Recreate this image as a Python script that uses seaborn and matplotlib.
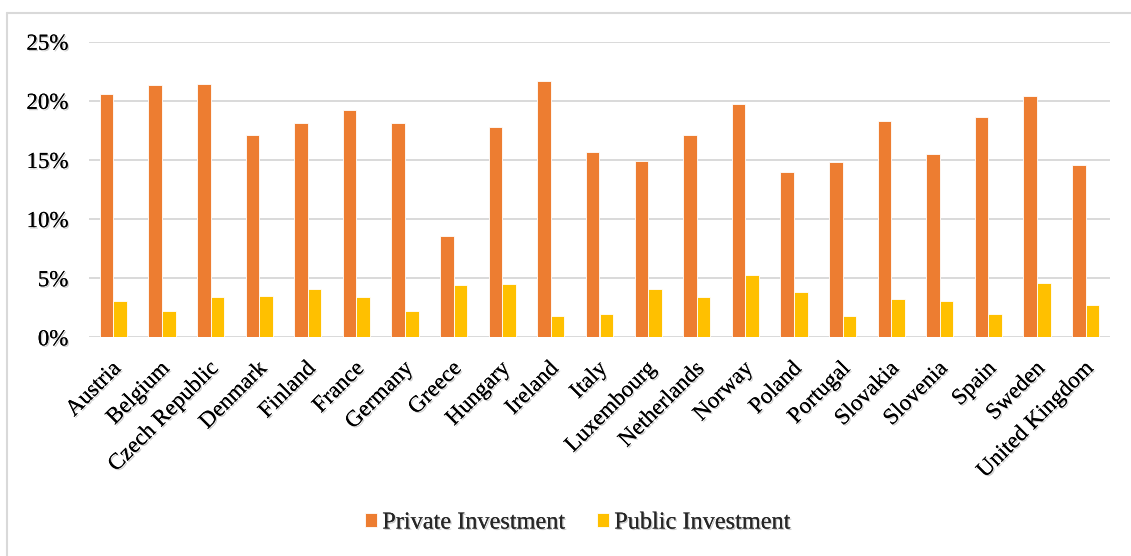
import matplotlib
matplotlib.use("Agg")
import matplotlib.pyplot as plt
import matplotlib.patheffects as pe
import matplotlib.transforms as mtransforms
from matplotlib.lines import Line2D
import seaborn as sns
import pandas as pd

countries = ["Austria", "Belgium", "Czech Republic", "Denmark", "Finland", "France",
             "Germany", "Greece", "Hungary", "Ireland", "Italy", "Luxembourg",
             "Netherlands", "Norway", "Poland", "Portugal", "Slovakia", "Slovenia",
             "Spain", "Sweden", "United Kingdom"]
private = [20.6, 21.3, 21.4, 17.1, 18.1, 19.2, 18.1, 8.6, 17.8, 21.7, 15.7, 14.9,
           17.1, 19.7, 14.0, 14.8, 18.3, 15.5, 18.6, 20.4, 14.6]
public = [3.1, 2.2, 3.4, 3.5, 4.1, 3.4, 2.2, 4.4, 4.5, 1.8, 2.0, 4.1,
          3.4, 5.3, 3.8, 1.8, 3.2, 3.1, 2.0, 4.6, 2.7]
series_names = ["Private Investment", "Public Investment"]
y_ticks = [0, 5, 10, 15, 20, 25]
y_labels = ["0%", "5%", "10%", "15%", "20%", "25%"]

df = pd.DataFrame({
    "Country": countries * 2,
    "Value": private + public,
    "Series": [series_names[0]] * len(countries) + [series_names[1]] * len(countries),
})

sns.set_theme(style="white")
plt.rcParams["font.family"] = ["Liberation Serif", "DejaVu Serif"]

fig = plt.figure(figsize=(11.31, 5.56), dpi=100)
ax = fig.add_axes([89 / 1131, 1 - 337.3 / 556, (1110 - 89) / 1131, (337.3 - 41.7) / 556])

palette = {series_names[0]: "#ED7D31", series_names[1]: "#FFC000"}
sns.barplot(data=df, x="Country", y="Value", hue="Series", palette=palette,
            width=0.56, gap=0.0, edgecolor="white", linewidth=0.6,
            saturation=1, ax=ax, legend=True, order=countries)

ax.set_ylim(0, 25)
ax.set_xlim(-0.5, len(countries) - 0.5)
ax.set_yticks(y_ticks)
ax.set_yticklabels(y_labels)
ax.yaxis.grid(True, color="#D9D9D9", linewidth=1.4)
ax.set_axisbelow(True)
for s in ax.spines.values():
    s.set_visible(False)
ax.set_xlabel("")
ax.set_ylabel("")

shadow = [pe.withSimplePatchShadow(offset=(1, -1), shadow_rgbFace="#999999", alpha=0.5), pe.Normal()]
ax.tick_params(axis="y", length=0, pad=15, labelsize=16.5, labelcolor="#000000")
ax.tick_params(axis="x", length=0, pad=15, labelsize=16.5, labelcolor="#000000")
shift = mtransforms.ScaledTranslation(-3 / 100, 0, fig.dpi_scale_trans)
for lab in ax.get_xticklabels():
    lab.set_rotation(45)
    lab.set_ha("right")
    lab.set_rotation_mode("anchor")
    lab.set_transform(lab.get_transform() + shift)
    lab.set_path_effects(shadow)
for lab in ax.get_yticklabels():
    lab.set_path_effects(shadow)

handles, labels = ax.get_legend_handles_labels()
ax.legend_.remove()
leg = fig.legend(handles, labels, loc="center", bbox_to_anchor=(578 / 1131, 1 - 523 / 556),
                 ncol=2, frameon=False, fontsize=17.5, handlelength=0.5, handleheight=0.5,
                 handletextpad=0.2, columnspacing=1.3, borderpad=0)
for t in leg.get_texts():
    t.set_path_effects(shadow)

# outer chart border (partially cropped)
fig.add_artist(Line2D([7 / 1131, 7 / 1131], [0, 1 - 13 / 556], transform=fig.transFigure,
                      color="#D9D9D9", linewidth=1.5))
fig.add_artist(Line2D([7 / 1131, 1], [1 - 13 / 556, 1 - 13 / 556], transform=fig.transFigure,
                      color="#D9D9D9", linewidth=1.5))

fig.savefig("out.png", dpi=100)
